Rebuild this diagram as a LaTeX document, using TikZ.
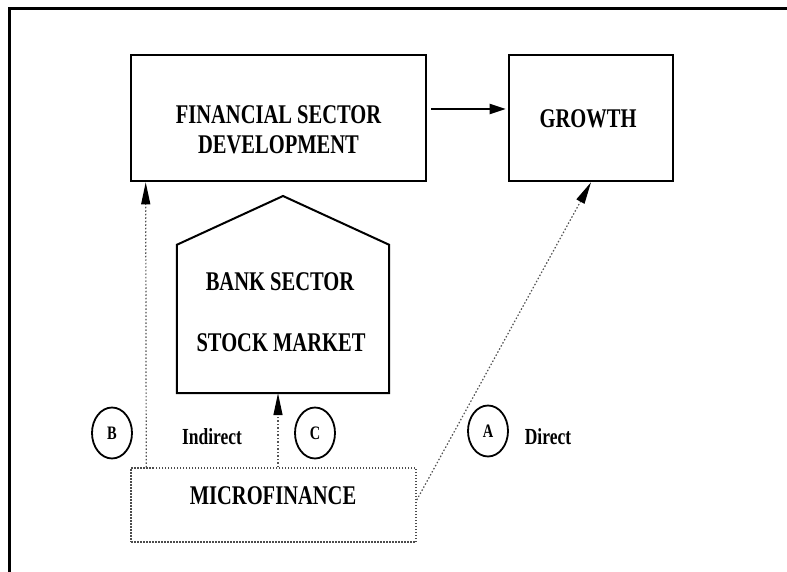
\documentclass[tikz,border=0pt]{standalone}
\usepackage{fontspec}
\setmainfont{Liberation Serif}[FakeStretch=0.76]
\usetikzlibrary{arrows.meta, shapes.geometric, positioning}

\tikzset{
  block/.style={draw, line width=2.6pt, minimum height=126pt, inner sep=0pt},
  title/.style={font=\fontsize{27}{30}\selectfont\bfseries, align=center, inner sep=0pt},
  small/.style={font=\fontsize{23}{23}\selectfont\bfseries, inner sep=0pt},
  tag/.style={ellipse, draw, line width=1.8pt, minimum width=40pt, minimum height=51pt,
    inner sep=0pt, font=\fontsize{19}{19}\selectfont\bfseries},
  link/.style={draw=gray!65!black, line width=1.2pt, dash pattern=on 1.5pt off 2pt,
    -{Triangle[length=22pt,width=9pt,color=black]}},
}

\begin{document}
\begin{tikzpicture}[x=1pt, y=-1pt]
  \useasboundingbox (0,0) rectangle (787,572);
  \clip (0,0) rectangle (787,572);
  % frame
  \draw[line width=3pt] (9.5,600) -- (9.5,8.5) -- (800,8.5);

  % top row
  \node[block, minimum width=295pt] (fsd) at (278.5,118) {};
  \node[title] (fsdtext) at (278.5,130) {FINANCIAL SECTOR\\DEVELOPMENT};
  \node[block, minimum width=164pt] (growth) at (591,118) {};
  \node[title] (growthtext) at (588,119) {GROWTH};

  % bank sector / stock market
  \node[minimum width=212pt, minimum height=148pt, inner sep=0pt] (bank) at (283,319) {};
  \coordinate (roof) at (283,196);
  \draw[line width=2pt] (bank.south west) -- (bank.north west) -- (roof)
    -- (bank.north east) -- (bank.south east) -- cycle;
  \node[title] (banktext) at (280,282) {BANK SECTOR};
  \node[title] (stocktext) at (281,343) {STOCK MARKET};

  % microfinance
  \node[draw=gray!60!black, line width=1.5pt, dash pattern=on 1.5pt off 1.5pt,
    minimum width=285pt, minimum height=74pt] (mf) at (273.5,505) {};
  \node[title] (mftext) at (273,496) {MICROFINANCE};

  % channels
  \node[tag] (b) at (112,433) {B};
  \node[small] (indirect) at (212,437) {Indirect};
  \node[tag] (c) at (315,433) {C};
  \node[tag] (a) at (488,431) {A};
  \node[small] (direct) at (548,437) {Direct};

  \draw[line width=2pt, -{Triangle[length=16pt,width=10pt]}, shorten <=4pt, shorten >=2pt]
    ([yshift=9pt]fsd.east) -- ([yshift=9pt]growth.west);
  \draw[link] ([xshift=16pt]mf.north west) -- ([xshift=16pt]fsd.south west);
  \draw[link] ([xshift=-5pt]bank.south |- mf.north) -- ([xshift=-5pt]bank.south);
  \draw[link] ([yshift=5pt]mf.east) -- (growth.south);
\end{tikzpicture}
\end{document}
